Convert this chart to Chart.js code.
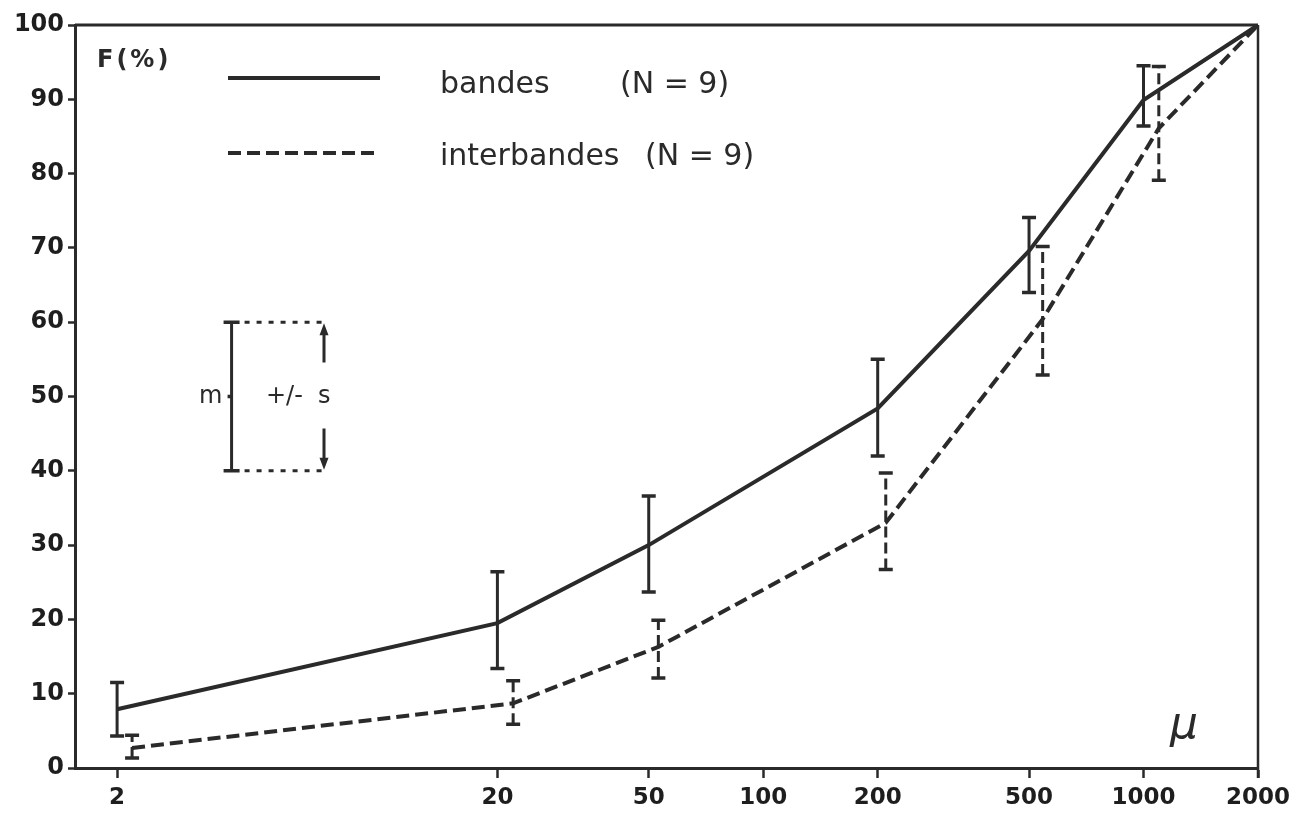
<!DOCTYPE html>
<html>
<head>
<meta charset="utf-8">
<script src="https://cdn.jsdelivr.net/npm/chart.js@4/dist/chart.umd.min.js"></script>
<style>
  html, body { margin: 0; padding: 0; background: #fff; }
  #graf { display: block; }
</style>
</head>
<body>
<canvas id="graf" width="1291" height="814"></canvas>
<script>
// ===============================
// DADOS
// ===============================
const xTicks = [2, 20, 50, 100, 200, 500, 1000, 2000];

// bandes (trait plein)
const bandesX = [2, 20, 50, 200, 500, 1000, 2000];
const bandesM = [7.9, 19.5, 30.0, 48.4, 69.6, 89.9, 100];
const bandesLo = [4.3, 13.4, 23.7, 42.0, 64.0, 86.4, null];
const bandesHi = [11.5, 26.4, 36.6, 55.0, 74.1, 94.5, null];

// interbandes (tirets)
const interX = [2.19, 22, 53, 210, 543, 1097, 2000];
const interM = [2.7, 8.7, 16.3, 33.0, 60.4, 86.1, 100];
const interLo = [1.35, 5.9, 12.1, 26.7, 52.9, 79.1, null];
const interHi = [4.4, 11.75, 19.9, 39.7, 70.2, 94.4, null];

// légende m +/- s
const keyX = 4, keyArrowX = 7, keyLo = 40, keyMid = 50, keyHi = 60;

const INK = '#2a2a2a';
const DASH = [13, 6];

const toPts = (xs, ys) => xs.map((x, i) => ({ x, y: ys[i] }));

// ===============================
// PLUGIN: barres d'erreur + cadre + textes
// ===============================
const decor = {
  id: 'decor',
  afterDatasetsDraw(chart) {
    const { ctx, chartArea: a, scales: { x, y } } = chart;
    ctx.save();
    ctx.strokeStyle = INK;
    ctx.fillStyle = INK;
    ctx.lineCap = 'butt';

    // barres d'erreur
    const bars = [
      { xs: bandesX, lo: bandesLo, hi: bandesHi, dash: [] },
      { xs: interX, lo: interLo, hi: interHi, dash: [11, 5] }
    ];
    bars.forEach(b => {
      b.xs.forEach((v, i) => {
        if (b.lo[i] == null) return;
        const px = x.getPixelForValue(v);
        const p1 = y.getPixelForValue(b.lo[i]);
        const p2 = y.getPixelForValue(b.hi[i]);
        ctx.lineWidth = 3;
        ctx.setLineDash(b.dash);
        ctx.beginPath(); ctx.moveTo(px, p1); ctx.lineTo(px, p2); ctx.stroke();
        ctx.setLineDash([]);
        ctx.lineWidth = 3.5;
        ctx.beginPath();
        ctx.moveTo(px - 7, p1); ctx.lineTo(px + 7, p1);
        ctx.moveTo(px - 7, p2); ctx.lineTo(px + 7, p2);
        ctx.stroke();
      });
    });

    // cadre haut + droite
    ctx.setLineDash([]);
    ctx.lineWidth = 3;
    ctx.beginPath(); ctx.moveTo(a.left, a.top); ctx.lineTo(a.right, a.top); ctx.stroke();
    ctx.lineWidth = 2.5;
    ctx.beginPath(); ctx.moveTo(a.right, a.top); ctx.lineTo(a.right, a.bottom + 10); ctx.stroke();

    // légende des séries
    ctx.lineWidth = 4;
    ctx.beginPath(); ctx.moveTo(228, 78); ctx.lineTo(380, 78); ctx.stroke();
    ctx.setLineDash(DASH);
    ctx.beginPath(); ctx.moveTo(228, 153); ctx.lineTo(380, 153); ctx.stroke();
    ctx.setLineDash([]);
    ctx.font = '30px "DejaVu Sans"';
    ctx.textBaseline = 'alphabetic';
    ctx.textAlign = 'left';
    ctx.fillText('bandes', 440, 93);
    ctx.fillText('(N = 9)', 620, 93);
    ctx.fillText('interbandes', 440, 165);
    ctx.fillText('(N = 9)', 645, 165);

    // F(%) et μ
    ctx.font = 'bold 24px "DejaVu Sans"';
    try { ctx.letterSpacing = '3px'; } catch (e) {}
    ctx.fillText('F(%)', 97, 67);
    try { ctx.letterSpacing = '0px'; } catch (e) {}
    ctx.font = 'italic 44px "DejaVu Sans"';
    ctx.textAlign = 'center';
    ctx.fillText('μ', 1184, 738);

    // schéma m +/- s
    const kx = x.getPixelForValue(keyX);
    const ax = x.getPixelForValue(keyArrowX);
    const yl = y.getPixelForValue(keyLo);
    const ym = y.getPixelForValue(keyMid);
    const yh = y.getPixelForValue(keyHi);
    ctx.lineWidth = 3;
    ctx.beginPath(); ctx.moveTo(kx, yl); ctx.lineTo(kx, yh); ctx.stroke();
    ctx.lineWidth = 3.5;
    ctx.beginPath();
    ctx.moveTo(kx - 8, yl); ctx.lineTo(kx + 8, yl);
    ctx.moveTo(kx - 8, yh); ctx.lineTo(kx + 8, yh);
    ctx.moveTo(kx - 4, ym); ctx.lineTo(kx, ym);
    ctx.stroke();
    ctx.lineWidth = 3;
    ctx.setLineDash([5, 7]);
    ctx.beginPath();
    ctx.moveTo(kx + 13, yl); ctx.lineTo(ax, yl);
    ctx.moveTo(kx + 13, yh); ctx.lineTo(ax, yh);
    ctx.stroke();
    ctx.setLineDash([]);
    // flèches
    ctx.lineWidth = 3;
    ctx.beginPath();
    ctx.moveTo(ax, ym - 34); ctx.lineTo(ax, yh + 8);
    ctx.moveTo(ax, ym + 32); ctx.lineTo(ax, yl - 8);
    ctx.stroke();
    ctx.beginPath();
    ctx.moveTo(ax, yh + 1); ctx.lineTo(ax - 4.5, yh + 13); ctx.lineTo(ax + 4.5, yh + 13); ctx.closePath();
    ctx.moveTo(ax, yl - 1); ctx.lineTo(ax - 4.5, yl - 13); ctx.lineTo(ax + 4.5, yl - 13); ctx.closePath();
    ctx.fill();
    ctx.font = '24px "DejaVu Sans"';
    ctx.textBaseline = 'middle';
    ctx.textAlign = 'left';
    ctx.fillText('m', 199, ym);
    ctx.fillText('+/-', 266, ym);
    ctx.fillText('s', 318, ym);

    ctx.restore();
  }
};

// ===============================
// GRÁFICO
// ===============================
new Chart(document.getElementById('graf'), {
  type: 'scatter',
  data: {
    datasets: [
      {
        label: 'bandes (N = 9)',
        data: toPts(bandesX, bandesM),
        showLine: true,
        borderColor: INK,
        borderWidth: 4,
        pointRadius: 0,
        tension: 0
      },
      {
        label: 'interbandes (N = 9)',
        data: toPts(interX, interM),
        showLine: true,
        borderColor: INK,
        borderWidth: 4,
        borderDash: DASH,
        pointRadius: 0,
        tension: 0
      }
    ]
  },
  options: {
    responsive: false,
    animation: false,
    devicePixelRatio: 1,
    layout: { padding: { top: 25, right: 33, left: 0, bottom: 0 } },
    plugins: { legend: { display: false }, tooltip: { enabled: false } },
    scales: {
      x: {
        type: 'logarithmic',
        min: 1.55,
        max: 2000,
        afterBuildTicks: ax => { ax.ticks = xTicks.map(v => ({ value: v })); },
        afterFit: ax => { ax.height = 46; ax.paddingLeft = 0; ax.paddingRight = 0; },
        ticks: {
          autoSkip: false,
          maxRotation: 0,
          padding: 6,
          color: '#1e1e1e',
          font: { family: 'DejaVu Sans', weight: 'bold', size: 23 },
          callback: v => String(v)
        },
        grid: { drawOnChartArea: false, drawTicks: true, tickLength: 10, tickWidth: 2.5, color: INK },
        border: { display: true, width: 3, color: INK }
      },
      y: {
        min: 0,
        max: 100,
        afterFit: ax => { ax.width = 75; ax.paddingTop = 0; ax.paddingBottom = 0; },
        ticks: {
          stepSize: 10,
          padding: 4,
          color: '#1e1e1e',
          font: { family: 'DejaVu Sans', weight: 'bold', size: 24 }
        },
        grid: { drawOnChartArea: false, drawTicks: true, tickLength: 7, tickWidth: 2.5, color: INK },
        border: { display: true, width: 3, color: INK }
      }
    }
  },
  plugins: [decor]
});
</script>
</body>
</html>
